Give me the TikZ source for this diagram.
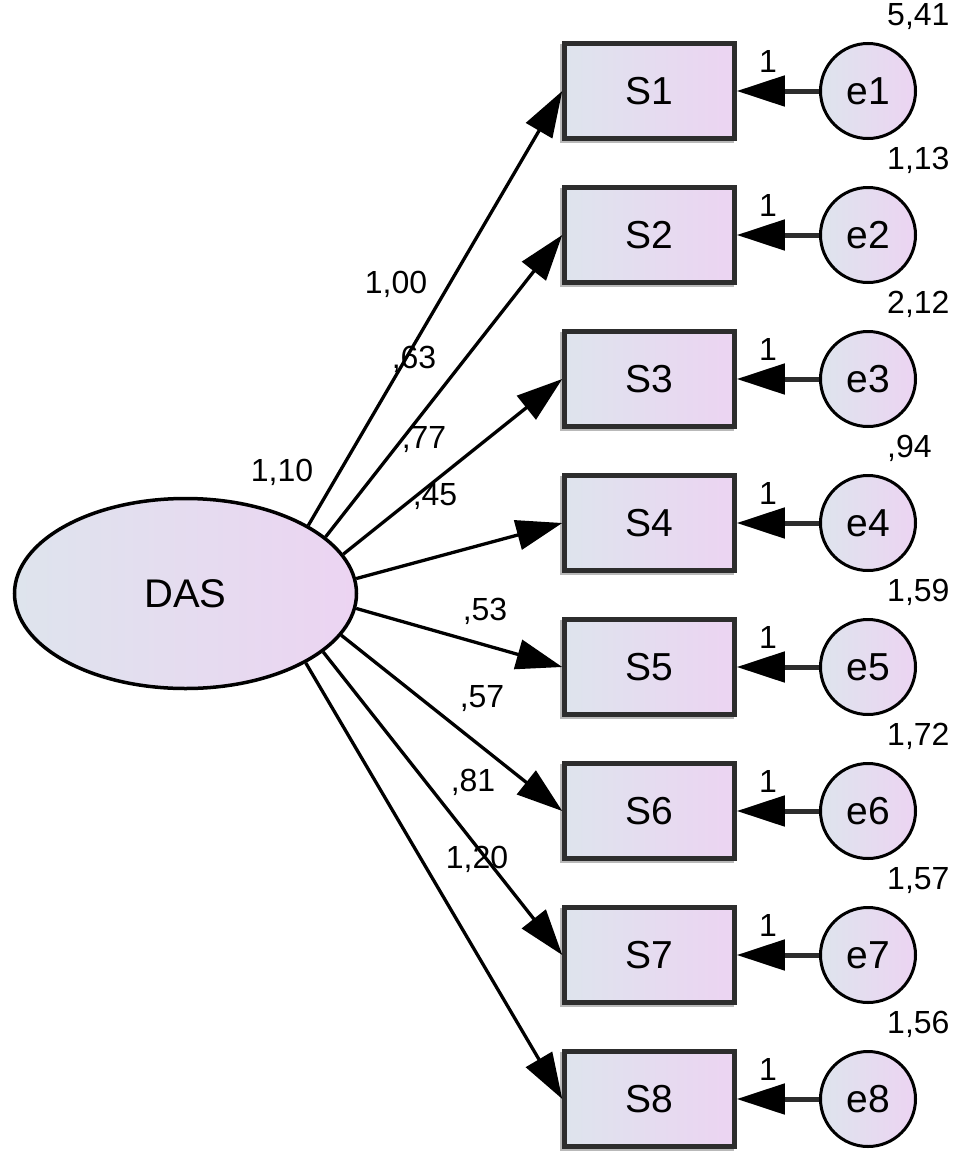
\documentclass[tikz,border=0pt]{standalone}
\usepackage{fontspec}
\setmainfont{Liberation Sans}
\usetikzlibrary{shapes.geometric,arrows.meta,shadows}
\definecolor{cl}{RGB}{222,228,237}
\definecolor{cr}{RGB}{236,212,242}
\definecolor{bd}{RGB}{45,45,45}
\begin{document}
\begin{tikzpicture}[x=1pt,y=-1pt,
  obs/.style={draw=bd,line width=4.5pt,minimum width=170pt,minimum height=95pt,inner sep=0pt,
    left color=cl,right color=cr,font=\fontsize{39}{45}\selectfont,
    drop shadow={shadow xshift=-2.5pt,shadow yshift=-2.5pt,fill=gray!55,draw=gray!55,line width=4.5pt,opacity=1}},
  err/.style={circle,draw=black,line width=3pt,minimum size=95pt,inner sep=0pt,
    left color=cl,right color=cr,font=\fontsize{39}{45}\selectfont},
  lat/.style={ellipse,draw=black,line width=3.5pt,minimum width=342pt,minimum height=190pt,inner sep=0pt,
    left color=cl,right color=cr,font=\fontsize{40}{46}\selectfont},
  lbl/.style={font=\fontsize{32}{36}\selectfont,inner sep=0pt},
  load/.style={-{Triangle[length=46pt,width=30pt]},line width=3.3pt,draw=black},
  erra/.style={-{Triangle[length=48pt,width=30pt,color=black]},line width=5pt,draw=bd}]
\useasboundingbox (0,0) rectangle (963,1151);

\node[lat] (DAS) at (185.5,593.5) {DAS};
\node[lbl] (vDAS) at (282,472) {1,10};

\foreach \i/\yy/\ang/\lx/\ly/\lt/\vt in {
  1/91/29/396/284/{1,00}/{5,41},
  2/235/22/414/359/{,63}/{1,13},
  3/379/14.5/424/440/{,77}/{2,12},
  4/523/5.5/435/497/{,45}/{,94},
  5/667/-5.5/485/611/{,53}/{1,59},
  6/811/-15.5/482/699/{,57}/{1,72},
  7/955/-23.5/473/782/{,81}/{1,57},
  8/1099/-30/477/859/{1,20}/{1,56}}{
  \node[obs] (S\i) at (649.5,\yy) {S\i};
  \node[err] (e\i) at (868,\yy) {e\i};
  \draw[load] (DAS.\ang) -- (S\i.west);
  \draw[erra] (e\i.west) -- (S\i.east);
  \node[lbl] (w\i) at (\lx,\ly) {\lt};
  \node[lbl] (one\i) at (768,\yy-30) {1};
  \node[lbl,anchor=base west] (v\i) at (887,\yy-66) {\vt};
}
\end{tikzpicture}
\end{document}
